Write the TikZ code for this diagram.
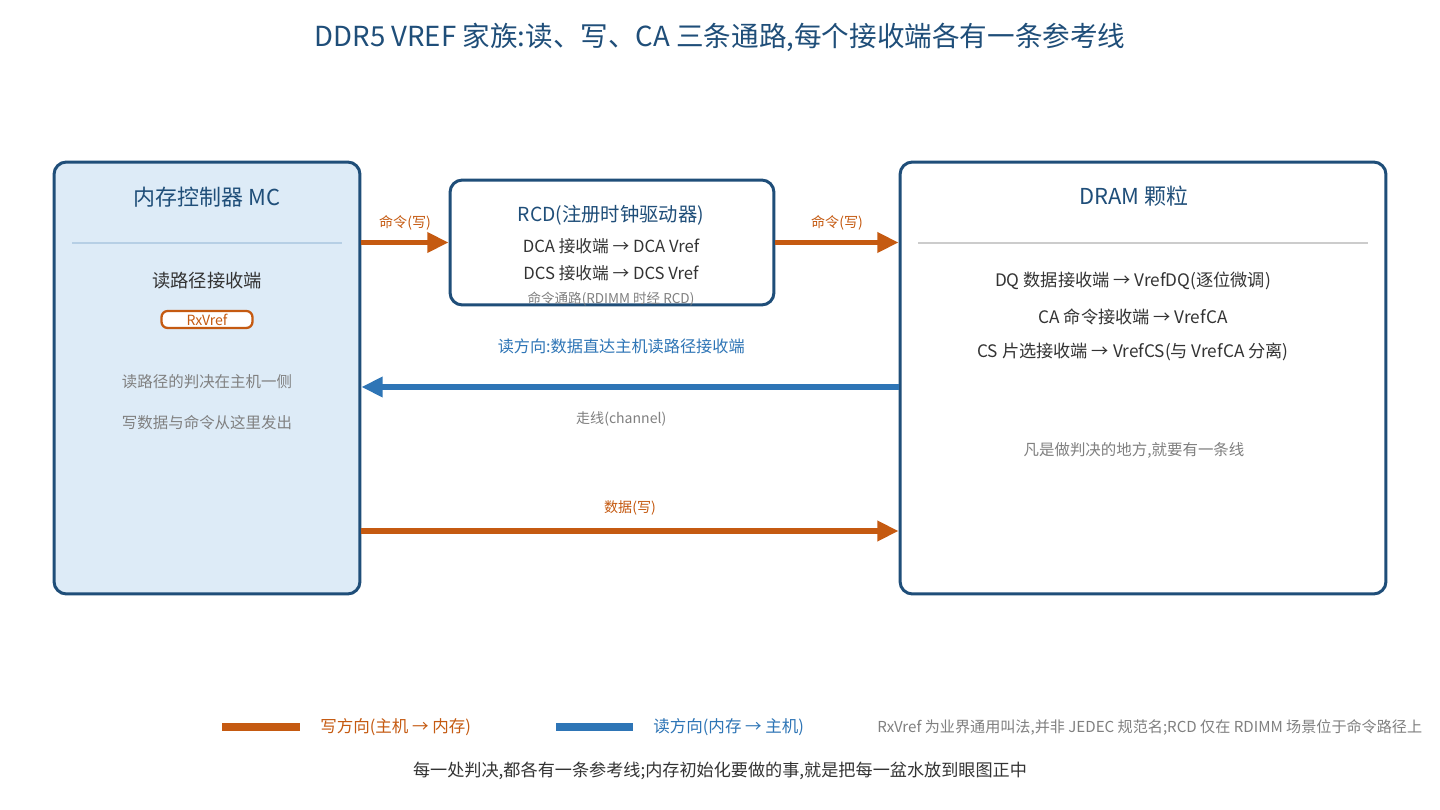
\documentclass[tikz,border=0pt]{standalone}
\usepackage{fontspec}
\setmainfont{Noto Sans CJK SC}
\usetikzlibrary{arrows.meta}

\definecolor{navy}{HTML}{1F4E79}
\definecolor{wrorange}{HTML}{C55A11}
\definecolor{rdblue}{HTML}{2E75B6}
\definecolor{mcfill}{HTML}{DDEBF7}
\definecolor{softgray}{HTML}{808080}
\definecolor{inkgray}{HTML}{333333}

\begin{document}
\begin{tikzpicture}[x=0.02cm, y=-0.02cm,
    box/.style={draw=navy, line width=1.7pt, rounded corners=7pt},
    wrline/.style={draw=wrorange, line width=3.4pt, -{Triangle[length=12pt, width=11pt]}},
    rdline/.style={draw=rdblue, line width=3.4pt, -{Triangle[length=12pt, width=11pt]}},
    wrlabel/.style={text=wrorange, font=\fontsize{8}{9}\selectfont},
    note/.style={text=softgray, font=\fontsize{8.8}{10}\selectfont},
    entry/.style={text=inkgray, font=\fontsize{9.8}{11}\selectfont},
    head/.style={text=navy, font=\fontsize{12.5}{14}\selectfont}]

    % canvas
    \useasboundingbox[fill=white] (0,0) rectangle (1440,810);

    % Title
    \node[text=navy, font=\fontsize{15.7}{18}\selectfont] (title) at (720,37)
        {DDR5 VREF 家族:读、写、CA 三条通路,每个接收端各有一条参考线};

    % Memory controller on the left
    \node[box, fill=mcfill, minimum width=6.12cm, minimum height=8.64cm] (mc) at (207,378) {};
    \node[head] (mctitle) at (207,197) {内存控制器 MC};
    \draw[draw=rdblue!35, line width=0.9pt] (72,243) -- (342,243);
    \node[text=inkgray, font=\fontsize{10.4}{12}\selectfont] (mcrx) at (207,281) {读路径接收端};
    \node[draw=wrorange, fill=white, line width=1.3pt, rounded corners=3.5pt,
          minimum width=1.82cm, minimum height=0.34cm, inner sep=0pt,
          text=wrorange, font=\fontsize{8}{9}\selectfont] (rxvref) at (207,319.5) {RxVref};
    \node[note] (mcnoteA) at (207,382) {读路径的判决在主机一侧};
    \node[note] (mcnoteB) at (207,423) {写数据与命令从这里发出};

    % RCD in the middle
    \node[box, fill=white, minimum width=6.48cm, minimum height=2.5cm] (rcd) at (612,242.5) {};
    \node[text=navy, font=\fontsize{11}{13}\selectfont] (rcdtitle) at (611,215) {RCD(注册时钟驱动器)};
    \node[entry, font=\fontsize{9.5}{11}\selectfont] (dca) at (611,246) {DCA 接收端 → DCA Vref};
    \node[entry, font=\fontsize{9.5}{11}\selectfont] (dcs) at (611,273) {DCS 接收端 → DCS Vref};
    \node[text=softgray, font=\fontsize{7.7}{9}\selectfont] (rcdnote) at (611,299) {命令通路(RDIMM 时经 RCD)};

    % DRAM on the right
    \node[box, fill=white, minimum width=9.72cm, minimum height=8.64cm] (dram) at (1143,378) {};
    \node[head] (dramtitle) at (1134,196) {DRAM 颗粒};
    \draw[draw=black!20, line width=0.9pt] (918,243) -- (1368,243);
    \node[entry] (dq) at (1133,281) {DQ 数据接收端 → VrefDQ(逐位微调)};
    \node[entry] (ca) at (1133,317) {CA 命令接收端 → VrefCA};
    \node[entry] (cs) at (1133,352) {CS 片选接收端 → VrefCS(与 VrefCA 分离)};
    \node[note] (dramnote) at (1134,450) {凡是做判决的地方,就要有一条线};

    % connectors
    \coordinate (rdlevel) at (0,387);
    \coordinate (wrlevel) at (0,531);

    \draw[wrline] (mc.east |- rcd.west) -- (rcd.west)
        node[midway, yshift=11.3pt, wrlabel] {命令(写)};
    \draw[wrline] (rcd.east) -- (dram.west |- rcd.east)
        node[midway, yshift=11.3pt, wrlabel] {命令(写)};
    \draw[rdline] (dram.west |- rdlevel) -- (mc.east |- rdlevel)
        node[midway, xshift=-5pt, yshift=23.2pt, text=rdblue, font=\fontsize{9.2}{11}\selectfont]
            {读方向:数据直达主机读路径接收端}
        node[midway, xshift=-5pt, yshift=-18pt, text=softgray, font=\fontsize{8}{9}\selectfont]
            {走线(channel)};
    \draw[wrline] (mc.east |- wrlevel) -- (dram.west |- wrlevel)
        node[midway, yshift=13pt, wrlabel] {数据(写)};

    % legend
    \draw[draw=wrorange, line width=4pt] (222,727) -- (300,727);
    \node[anchor=west, inner sep=0pt, text=wrorange, font=\fontsize{9.4}{11}\selectfont] (wrkey) at (320,727) {写方向(主机 → 内存)};
    \draw[draw=rdblue, line width=4pt] (556,727) -- (633,727);
    \node[anchor=west, inner sep=0pt, text=rdblue, font=\fontsize{9.4}{11}\selectfont] (rdkey) at (653,727) {读方向(内存 → 主机)};
    \node[anchor=west, inner sep=0pt, text=softgray, font=\fontsize{8.6}{10}\selectfont] (footnote) at (877,727)
        {RxVref 为业界通用叫法,并非 JEDEC 规范名;RCD 仅在 RDIMM 场景位于命令路径上};

    % closing line
    \node[text=inkgray, font=\fontsize{9.75}{11}\selectfont] (closing) at (720,771)
        {每一处判决,都各有一条参考线;内存初始化要做的事,就是把每一盆水放到眼图正中};

\end{tikzpicture}
\end{document}
